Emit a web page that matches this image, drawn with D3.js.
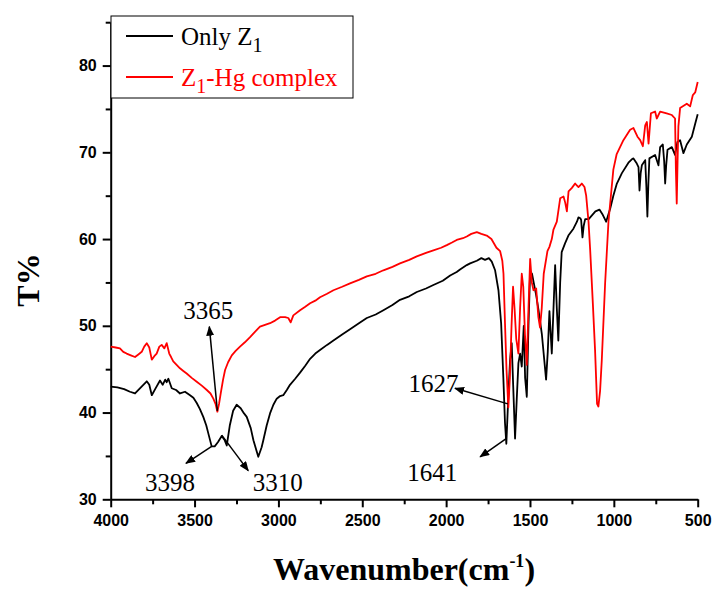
<!DOCTYPE html>
<html>
<head>
  <meta charset="utf-8" />
  <title>FTIR - Z1 and Z1-Hg complex</title>
  <script type="text/javascript" src="https://d3js.org/d3.v7.min.js"></script>
  <style>
    body{
      margin: 0;
      background: white;
    }
  </style>
</head>
<body>
  <script type="text/javascript">
    // - - - - - CONSTANTS - - - - - //
    var w = 716;
    var h = 590;
    var plotLeft = 110.7;
    var plotRight = 697.7;
    var plotTop = 22.2;
    var plotBottom = 499.3;

    // - - - - - DATA - - - - - //
    //axis ticks
    var xMajor = [4000, 3500, 3000, 2500, 2000, 1500, 1000, 500];
    var xMinor = [3750, 3250, 2750, 2250, 1750, 1250, 750];
    var yMajor = [30, 40, 50, 60, 70, 80];
    var yMinor = [35, 45, 55, 65, 75, 85];

    //spectrum of Z1 alone : [wavenumber, T%]
    var onlyZ1 = [
      [4000,43.0],[3960,42.9],[3920,42.7],[3885,42.4],[3855,42.2],[3820,42.9],[3785,43.6],
      [3770,43.2],[3755,42.0],[3735,42.7],[3706,43.7],[3690,43.2],[3675,43.8],[3666,43.5],
      [3656,43.9],[3645,43.3],[3636,42.8],[3610,42.6],[3587,42.2],[3557,42.4],[3527,42.0],
      [3507,41.7],[3487,41.1],[3468,40.4],[3448,39.5],[3430,38.5],[3418,37.6],[3398,36.1],
      [3380,36.1],[3360,36.6],[3338,37.3],[3320,36.8],[3308,36.2],[3290,38.5],[3270,40.2],
      [3249,40.9],[3225,40.5],[3205,39.9],[3189,39.5],[3165,38.2],[3149,36.8],[3120,34.9],
      [3100,36.0],[3090,36.8],[3070,38.5],[3050,39.9],[3030,40.9],[3010,41.6],[2990,41.9],
      [2971,42.0],[2950,42.6],[2931,43.2],[2900,43.9],[2871,44.6],[2840,45.4],[2811,46.2],
      [2780,46.8],[2752,47.2],[2710,47.8],[2672,48.3],[2620,49.0],[2573,49.6],[2520,50.3],
      [2473,50.9],[2420,51.3],[2374,51.8],[2320,52.4],[2275,53.0],[2220,53.4],[2175,53.9],
      [2120,54.3],[2076,54.7],[2020,55.2],[1976,55.8],[1937,56.2],[1917,56.5],[1877,57.0],
      [1857,57.2],[1817,57.5],[1790,57.8],[1768,57.6],[1745,57.8],[1728,57.4],[1708,56.4],
      [1688,54.1],[1672,50.3],[1659,44.1],[1649,38.8],[1641,36.4],[1630,41.5],[1619,46.0],
      [1609,48.0],[1600,43.0],[1589,37.0],[1579,41.5],[1569,45.7],[1559,46.8],[1549,45.3],
      [1537,50.0],[1529,44.0],[1519,41.8],[1509,50.0],[1499,56.3],[1488,56.0],[1478,55.0],
      [1463,53.5],[1449,51.8],[1429,49.0],[1404,43.8],[1394,47.0],[1384,51.7],[1370,46.8],
      [1350,57.0],[1340,52.0],[1331,48.3],[1320,55.0],[1311,58.5],[1291,59.5],[1271,60.4],
      [1241,61.2],[1220,62.0],[1211,62.5],[1200,62.4],[1195,62.2],[1187,60.2],[1180,61.5],
      [1171,62.3],[1150,62.3],[1132,62.7],[1110,63.2],[1086,63.4],[1066,62.8],[1046,62.0],
      [1022,63.5],[1003,65.0],[982,66.4],[952,67.6],[913,68.8],[893,69.2],[883,69.3],
      [863,68.7],[853,68.3],[847,65.6],[840,67.6],[833,68.5],[813,69.1],[806,66.0],
      [800,62.6],[794,66.5],[788,69.3],[754,69.7],[734,68.5],[724,70.6],[708,70.9],
      [700,69.0],[694,66.4],[688,68.5],[680,70.3],[654,70.6],[635,69.7],[621,71.2],
      [605,71.4],[585,69.9],[565,70.9],[535,71.8],[515,73.3],[500,74.4]
    ];

    //spectrum of Z1-Hg complex : [wavenumber, T%]
    var z1Hg = [
      [4000,47.6],[3970,47.5],[3945,47.4],[3925,47.0],[3905,46.8],[3880,46.6],[3855,46.4],
      [3835,46.7],[3815,47.0],[3800,47.6],[3785,48.0],[3770,47.5],[3755,46.1],[3740,46.5],
      [3726,46.8],[3710,47.6],[3696,47.8],[3680,47.4],[3666,48.0],[3651,46.8],[3640,46.4],
      [3627,45.9],[3607,45.5],[3587,45.1],[3567,44.8],[3547,44.5],[3517,44.0],[3487,43.55],
      [3457,43.1],[3427,42.6],[3405,42.2],[3388,41.6],[3375,41.0],[3364,40.1],[3354,41.0],
      [3344,42.2],[3330,43.8],[3318,44.9],[3300,45.8],[3278,46.6],[3255,47.1],[3229,47.6],
      [3200,48.1],[3169,48.7],[3140,49.3],[3110,49.9],[3080,50.1],[3050,50.3],[3020,50.6],
      [2990,51.0],[2960,51.0],[2941,50.9],[2927,50.4],[2911,51.2],[2871,51.8],[2840,52.2],
      [2811,52.6],[2780,52.9],[2752,53.3],[2710,53.7],[2672,54.1],[2620,54.5],[2573,54.9],
      [2520,55.3],[2473,55.7],[2420,56.0],[2374,56.4],[2320,56.8],[2275,57.2],[2220,57.6],
      [2175,58.0],[2120,58.4],[2076,58.7],[2030,59.0],[1996,59.3],[1965,59.6],[1937,59.9],
      [1900,60.1],[1877,60.3],[1850,60.6],[1817,60.8],[1790,60.6],[1758,60.4],[1730,60.0],
      [1718,59.6],[1700,59.0],[1678,58.6],[1665,57.5],[1658,56.0],[1649,50.3],[1640,45.0],
      [1629,40.6],[1620,44.0],[1610,50.0],[1601,54.5],[1592,52.0],[1582,48.5],[1569,46.8],
      [1559,52.0],[1549,56.0],[1540,54.5],[1530,49.0],[1519,45.5],[1509,52.0],[1499,57.7],
      [1489,55.0],[1479,54.1],[1463,54.3],[1450,51.0],[1440,49.8],[1430,52.0],[1418,56.0],
      [1396,58.6],[1384,59.1],[1370,60.0],[1360,61.1],[1340,62.0],[1320,64.7],[1300,64.9],
      [1290,64.2],[1280,63.2],[1270,65.5],[1250,65.9],[1231,66.4],[1211,66.0],[1191,66.4],
      [1175,66.0],[1165,65.0],[1151,62.0],[1141,58.7],[1125,52.5],[1112,47.2],[1100,41.0],
      [1092,40.7],[1082,42.5],[1072,46.0],[1052,54.9],[1032,62.0],[1003,68.0],[983,69.8],
      [963,70.6],[943,71.4],[923,72.0],[903,72.6],[883,72.8],[859,71.8],[843,71.4],
      [827,70.7],[813,73.1],[803,73.5],[793,71.0],[779,74.5],[754,74.7],[744,73.9],
      [724,74.7],[685,74.5],[654,74.3],[635,73.9],[630,68.0],[625,64.1],[620,69.0],
      [615,73.0],[605,75.1],[565,75.6],[545,75.3],[529,76.6],[515,76.9],[500,78.1]
    ];

    //legend entries
    var legendNames = [["Only Z", "1", ""], ["Z", "1", "-Hg complex"]];
    var legendColors = ["black", "red"];

    //peak annotations : label, tail [wn,T], head [wn,T], label anchor [wn,T]
    var peakText = ["3365", "3398", "3310", "1627", "1641"];
    var peakTail = [[3364,40.2], [3398,36.1], [3338,37.4], [1632,41.0], [1642,37.0]];
    var peakHead = [[3412,49.9], [3551,34.15], [3180,33.3], [1947,42.8], [1797,34.9]];
    var peakPos  = [[3567,50.75], [3795,31.0], [3153,31.0], [2225,42.4], [2232,32.1]];

    // - - - - - CANVAS - - - - - //
    var svg = d3.select("body")
      .append("svg")
      .attr("width", w)
      .attr("height", h);

    // - - - - - SCALES - - - - - //
    var x = d3.scaleLinear()
      .domain([4000, 500])
      .range([plotLeft, plotRight]);
    var y = d3.scaleLinear()
      .domain([30, 85])
      .range([plotBottom, plotTop]);

    // - - - - - AXES - - - - - //
    var xAxis = svg.append("g")
      .attr("transform", "translate(0," + plotBottom + ")")
      .call(d3.axisBottom(x).tickValues(xMajor).tickSize(8).tickSizeOuter(0)
        .tickPadding(7).tickFormat(d3.format("d")));
    svg.append("g")
      .attr("transform", "translate(0," + plotBottom + ")")
      .call(d3.axisBottom(x).tickValues(xMinor).tickSize(5).tickSizeOuter(0)
        .tickFormat(""))
      .select(".domain").remove();

    var yAxis = svg.append("g")
      .attr("transform", "translate(" + plotLeft + ",0)")
      .call(d3.axisLeft(y).tickValues(yMajor).tickSize(8).tickSizeOuter(0)
        .tickPadding(6).tickFormat(d3.format("d")));
    svg.append("g")
      .attr("transform", "translate(" + plotLeft + ",0)")
      .call(d3.axisLeft(y).tickValues(yMinor).tickSize(5).tickSizeOuter(0)
        .tickFormat(""))
      .select(".domain").remove();

    svg.selectAll(".domain, .tick line")
      .attr("stroke", "black")
      .attr("stroke-width", 2);
    svg.selectAll(".tick text")
      .attr("font-family", "'Liberation Sans', Arial, sans-serif")
      .attr("font-weight", "bold")
      .attr("font-size", "16px")
      .attr("fill", "black");

    // - - - - - SPECTRA - - - - - //
    var line = d3.line()
      .x(function(d){ return x(d[0]); })
      .y(function(d){ return y(d[1]); });

    svg.append("path")
      .datum(onlyZ1)
      .attr("d", line)
      .attr("fill", "none")
      .attr("stroke", "black")
      .attr("stroke-width", 1.8)
      .attr("stroke-linejoin", "round");

    svg.append("path")
      .datum(z1Hg)
      .attr("d", line)
      .attr("fill", "none")
      .attr("stroke", "red")
      .attr("stroke-width", 1.8)
      .attr("stroke-linejoin", "round");

    // - - - - - PEAK ANNOTATIONS - - - - - //
    svg.append("defs")
      .append("marker")
      .attr("id", "head")
      .attr("viewBox", "0 0 10 8")
      .attr("refX", 9)
      .attr("refY", 4)
      .attr("markerWidth", 10)
      .attr("markerHeight", 8)
      .attr("markerUnits", "userSpaceOnUse")
      .attr("orient", "auto")
      .append("path")
      .attr("d", "M0,0L10,4L0,8z")
      .attr("fill", "black");

    var ann = svg.selectAll(".peak")
      .data(peakText)
      .enter()
      .append("g")
      .classed("peak", true);

    ann.append("line")
      .attr("x1", function(d,i){ return x(peakTail[i][0]); })
      .attr("y1", function(d,i){ return y(peakTail[i][1]); })
      .attr("x2", function(d,i){ return x(peakHead[i][0]); })
      .attr("y2", function(d,i){ return y(peakHead[i][1]); })
      .attr("stroke", "black")
      .attr("stroke-width", 1.5)
      .attr("marker-end", "url(#head)");

    ann.append("text")
      .text(function(d){ return d; })
      .attr("x", function(d,i){ return x(peakPos[i][0]); })
      .attr("y", function(d,i){ return y(peakPos[i][1]); })
      .attr("font-family", "'Liberation Serif', 'Times New Roman', serif")
      .attr("font-size", "25px")
      .attr("fill", "black");

    // - - - - - AXIS TITLES - - - - - //
    svg.append("text")
      .text("T%")
      .attr("transform", "translate(39,280) rotate(-90)")
      .attr("text-anchor", "middle")
      .attr("font-family", "'Liberation Serif', 'Times New Roman', serif")
      .attr("font-weight", "bold")
      .attr("font-size", "32px");

    var xTitle = svg.append("text")
      .attr("x", 404)
      .attr("y", 580)
      .attr("text-anchor", "middle")
      .attr("font-family", "'Liberation Serif', 'Times New Roman', serif")
      .attr("font-weight", "bold")
      .attr("font-size", "32px");
    xTitle.append("tspan").text("Wavenumber(cm");
    xTitle.append("tspan").text("-1").attr("font-size", "18px").attr("dy", -13);
    xTitle.append("tspan").text(")").attr("dy", 13);

    // - - - - - LEGEND - - - - - //
    var legend = svg.append("g");
    legend.append("rect")
      .attr("x", 111)
      .attr("y", 16)
      .attr("width", 242)
      .attr("height", 82)
      .attr("fill", "white")
      .attr("stroke", "black")
      .attr("stroke-width", 1);

    var entry = legend.selectAll(".entry")
      .data(legendNames)
      .enter()
      .append("g")
      .classed("entry", true)
      .attr("transform", function(d,i){ return "translate(0," + (36 + i*41) + ")"; });

    entry.append("line")
      .attr("x1", 126)
      .attr("x2", 173)
      .attr("stroke", function(d,i){ return legendColors[i]; })
      .attr("stroke-width", 1.8);

    var lt = entry.append("text")
      .attr("x", 181)
      .attr("y", 9)
      .attr("font-family", "'Liberation Serif', 'Times New Roman', serif")
      .attr("font-size", "25px")
      .attr("fill", function(d,i){ return legendColors[i]; });
    lt.append("tspan").text(function(d){ return d[0]; });
    lt.append("tspan").text(function(d){ return d[1]; }).attr("font-size", "20px").attr("dy", 7);
    lt.append("tspan").text(function(d){ return d[2]; }).attr("dy", -7);
  </script>
</body>
</html>
